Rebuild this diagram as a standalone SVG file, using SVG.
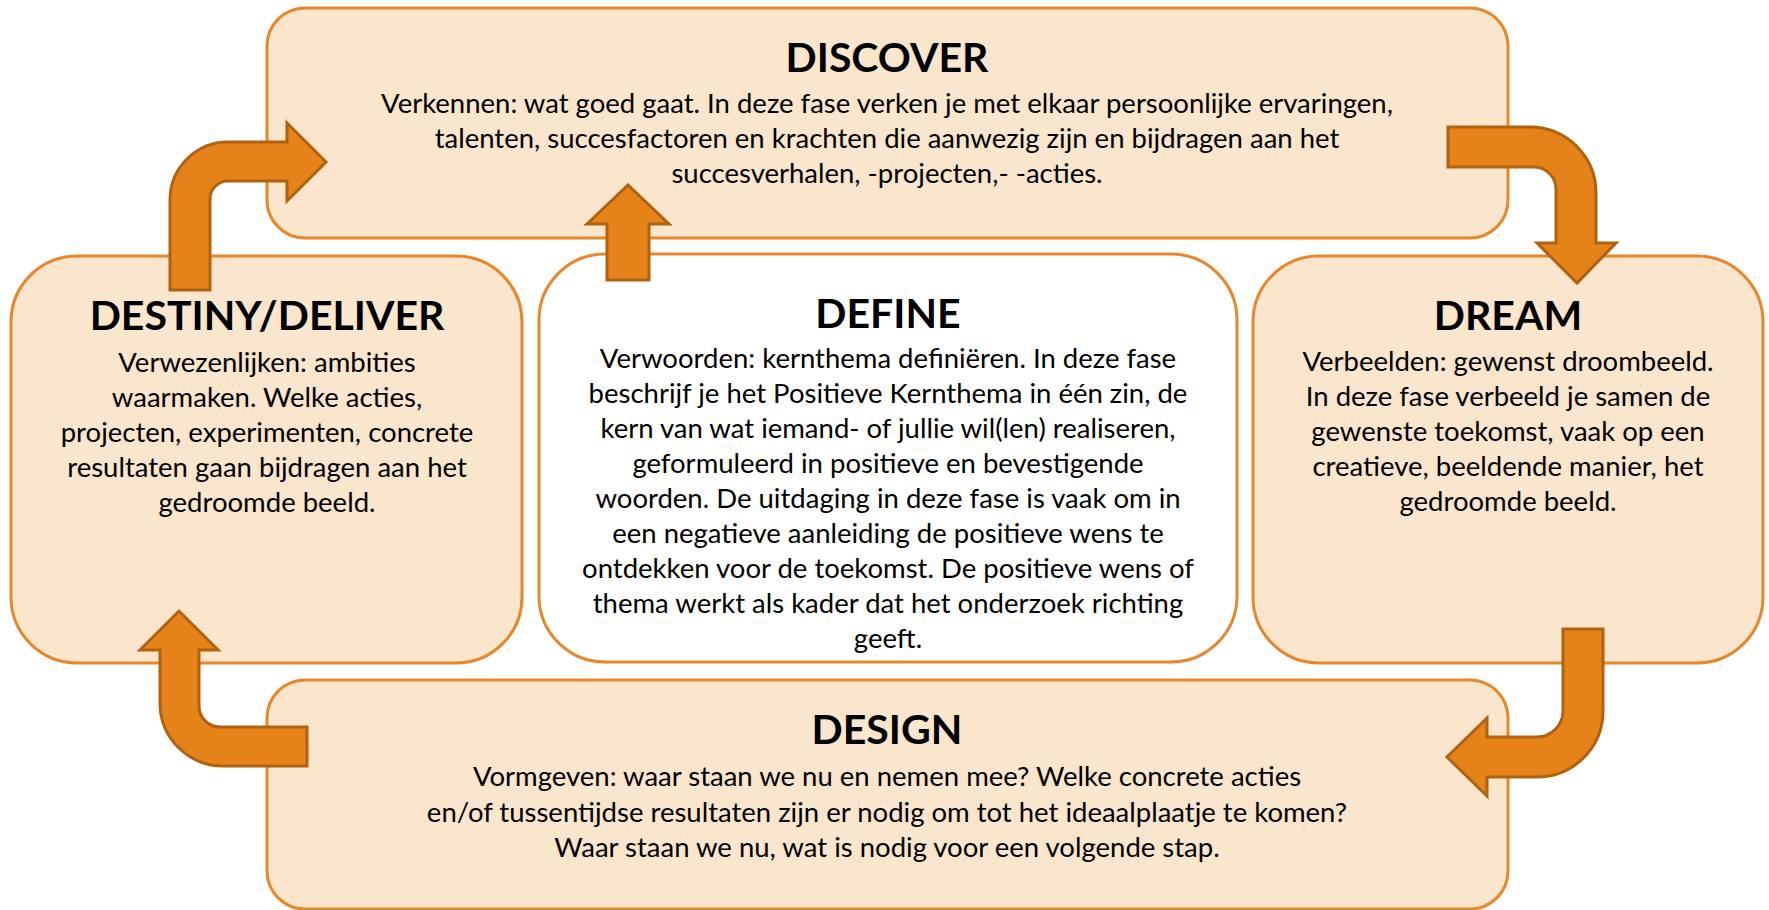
<svg xmlns="http://www.w3.org/2000/svg" width="1769" height="910" viewBox="0 0 1769 910">
<defs>
<style>
.box{fill:#FAE5CD;stroke:#E8862A;stroke-width:3}
.boxw{fill:#FFFFFF;stroke:#E8862A;stroke-width:3}
.arrow{fill:#E5831A;stroke:#B0620F;stroke-width:3;stroke-linejoin:miter}
.t{font-family:Lato,"Liberation Sans",sans-serif;font-weight:bold;font-size:41px;fill:#000;text-anchor:middle}
.b{font-family:Lato,"Liberation Sans",sans-serif;font-size:27.5px;fill:#000;text-anchor:middle}
</style>
</defs>
<rect width="1769" height="910" fill="#FFFFFF"/>
<g id="discover">
<rect class="box" x="267" y="8" width="1241" height="230" rx="38" ry="38"/>
<text class="t" x="887" y="72">DISCOVER</text>
<text class="b" x="887" y="113">Verkennen: wat goed gaat. In deze fase verken je met elkaar persoonlijke ervaringen,</text>
<text class="b" x="887" y="148">talenten, succesfactoren en krachten die aanwezig zijn en bijdragen aan het</text>
<text class="b" x="887" y="183">succesverhalen, -projecten,- -acties.</text>
</g>
<g id="destiny">
<rect class="box" x="11" y="256" width="511" height="407" rx="66" ry="66"/>
<text class="t" x="267" y="330">DESTINY/DELIVER</text>
<text class="b" x="267" y="372">Verwezenlijken: ambities</text>
<text class="b" x="267" y="407">waarmaken. Welke acties,</text>
<text class="b" x="267" y="442">projecten, experimenten, concrete</text>
<text class="b" x="267" y="477">resultaten gaan bijdragen aan het</text>
<text class="b" x="267" y="512">gedroomde beeld.</text>
</g>
<g id="define">
<rect class="boxw" x="539" y="254" width="698" height="408" rx="66" ry="66"/>
<text class="t" x="888" y="328">DEFINE</text>
<text class="b" x="888" y="368">Verwoorden: kernthema definiëren. In deze fase</text>
<text class="b" x="888" y="403">beschrijf je het Positieve Kernthema in één zin, de</text>
<text class="b" x="888" y="438">kern van wat iemand- of jullie wil(len) realiseren,</text>
<text class="b" x="888" y="473">geformuleerd in positieve en bevestigende</text>
<text class="b" x="888" y="508">woorden. De uitdaging in deze fase is vaak om in</text>
<text class="b" x="888" y="543">een negatieve aanleiding de positieve wens te</text>
<text class="b" x="888" y="578">ontdekken voor de toekomst. De positieve wens of</text>
<text class="b" x="888" y="613">thema werkt als kader dat het onderzoek richting</text>
<text class="b" x="888" y="648">geeft.</text>
</g>
<g id="dream">
<rect class="box" x="1253" y="256" width="510" height="407" rx="66" ry="66"/>
<text class="t" x="1508" y="330">DREAM</text>
<text class="b" x="1508" y="371">Verbeelden: gewenst droombeeld.</text>
<text class="b" x="1508" y="406">In deze fase verbeeld je samen de</text>
<text class="b" x="1508" y="441">gewenste toekomst, vaak op een</text>
<text class="b" x="1508" y="476">creatieve, beeldende manier, het</text>
<text class="b" x="1508" y="511">gedroomde beeld.</text>
</g>
<g id="design">
<rect class="box" x="267" y="680" width="1241" height="229" rx="38" ry="38"/>
<text class="t" x="887" y="744">DESIGN</text>
<text class="b" x="887" y="786">Vormgeven: waar staan we nu en nemen mee? Welke concrete acties</text>
<text class="b" x="887" y="822">en/of tussentijdse resultaten zijn er nodig om tot het ideaalplaatje te komen?</text>
<text class="b" x="887" y="857">Waar staan we nu, wat is nodig voor een volgende stap.</text>
</g>
<g id="connectors">
<path class="arrow" d="M170,290 L170,200 A58,58 0 0 1 228,142 L287,142 L287,123 L326,162 L287,201 L287,181 L228,181 A18,18 0 0 0 210,199 L210,290 Z"/>
<path class="arrow" d="M1448,127 L1530,127 A66,66 0 0 1 1596,193 L1596,243 L1616,243 L1577,283 L1537,243 L1556,243 L1556,189 A22,22 0 0 0 1534,167 L1448,167 Z"/>
<path class="arrow" d="M1563,629 L1603,629 L1603,711 A66,66 0 0 1 1537,777 L1487,777 L1487,796 L1447,757 L1487,718 L1487,737 L1537,737 A26,26 0 0 0 1563,711 Z"/>
<path class="arrow" d="M307,727 L307,766 L223,766 A63,63 0 0 1 160,703 L160,650 L140,650 L179,611 L218,650 L199,650 L199,706 A21,21 0 0 0 220,727 Z"/>
<path class="arrow" d="M607,280 L607,224 L587,224 L628,185 L669,224 L649,224 L649,280 Z"/>
</g>
</svg>
